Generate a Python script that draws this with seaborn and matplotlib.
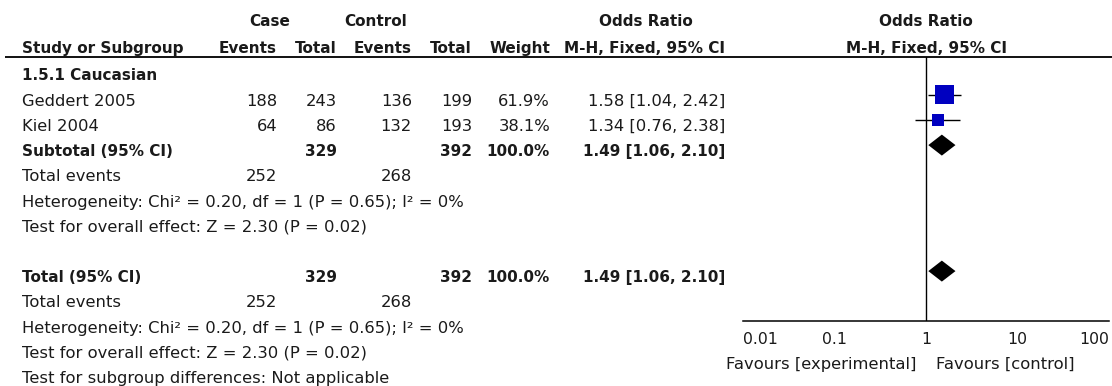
import matplotlib
matplotlib.use("Agg")
import matplotlib.pyplot as plt
import seaborn as sns
import pandas as pd
from matplotlib.ticker import NullLocator

# ---- data ----
group_label = "1.5.1 Caucasian"
studies = ["Geddert 2005", "Kiel 2004"]
case_events = [188, 64]
case_total = [243, 86]
control_events = [136, 132]
control_total = [199, 193]
weights = [61.9, 38.1]
odds_ratio = [1.58, 1.34]
ci_low = [1.04, 0.76]
ci_high = [2.42, 2.38]

pooled_or = 1.49
pooled_low = 1.06
pooled_high = 2.10
het_chi2, het_df, het_p, het_i2 = 0.20, 1, 0.65, 0
z_value, z_p = 2.30, 0.02

axis_ticks = [0.01, 0.1, 1, 10, 100]
axis_tick_labels = ["0.01", "0.1", "1", "10", "100"]
favours_left = "Favours [experimental]"
favours_right = "Favours [control]"

# ---- style ----
sns.set_style("white")
plt.rcParams["font.family"] = ["DejaVu Sans"]
TXT = "#1a1a1a"
BLUE = "#0000c0"
FS = 11.8      # regular text
FSB = 11.0     # bold text
FST = 11.3     # axis tick labels

W, H = 1112, 386
fig = plt.figure(figsize=(W / 100, H / 100), dpi=100)
fig.patch.set_facecolor("white")

# full-figure layer for the table text, in pixel units
tax = fig.add_axes([0, 0, 1, 1])
tax.set_xlim(0, W)
tax.set_ylim(H, 0)
tax.axis("off")

ROW0, STEP, BASE = 69.5, 25.2, 11.0


def row_c(i):
    return ROW0 + STEP * i


def base(i):
    return row_c(i) + BASE


X_STUDY, X_CE, X_CT, X_KE, X_KT, X_W, X_OR = 22, 277, 337, 412, 472, 550, 725
X_AX0, X_AX1, Y_HDR, Y_AX = 743, 1109, 57, 321
X_ONE = 926


def put(x, y, s, ha="left", bold=False, size=None):
    tax.text(x, y, s, ha=ha, va="baseline", color=TXT,
             fontsize=size or (FSB if bold else FS),
             fontweight="bold" if bold else "normal")


# header
put(270, 26, "Case", ha="center", bold=True)
put(376, 26, "Control", ha="center", bold=True)
put(646, 26, "Odds Ratio", ha="center", bold=True)
put(X_ONE, 26, "Odds Ratio", ha="center", bold=True)
put(X_STUDY, 53, "Study or Subgroup", bold=True)
put(X_CE, 53, "Events", ha="right", bold=True)
put(X_CT, 53, "Total", ha="right", bold=True)
put(X_KE, 53, "Events", ha="right", bold=True)
put(X_KT, 53, "Total", ha="right", bold=True)
put(X_W, 53, "Weight", ha="right", bold=True)
put(X_OR, 53, "M-H, Fixed, 95% CI", ha="right", bold=True)
put(X_ONE, 53, "M-H, Fixed, 95% CI", ha="center", bold=True)
tax.plot([5, W], [Y_HDR, Y_HDR], color="#111111", lw=1.4, solid_capstyle="butt")

# subgroup block
put(X_STUDY, base(0), group_label, bold=True)
for k, name in enumerate(studies):
    r = 1 + k
    put(X_STUDY, base(r), name)
    put(X_CE, base(r), f"{case_events[k]}", ha="right")
    put(X_CT, base(r), f"{case_total[k]}", ha="right")
    put(X_KE, base(r), f"{control_events[k]}", ha="right")
    put(X_KT, base(r), f"{control_total[k]}", ha="right")
    put(X_W, base(r), f"{weights[k]:.1f}%", ha="right")
    put(X_OR, base(r), f"{odds_ratio[k]:.2f} [{ci_low[k]:.2f}, {ci_high[k]:.2f}]", ha="right")

sum_ct = sum(case_total)
sum_kt = sum(control_total)
sum_ce = sum(case_events)
sum_ke = sum(control_events)
pooled_txt = f"{pooled_or:.2f} [{pooled_low:.2f}, {pooled_high:.2f}]"
het_txt = (f"Heterogeneity: Chi\u00b2 = {het_chi2:.2f}, df = {het_df} "
           f"(P = {het_p:.2f}); I\u00b2 = {het_i2}%")
z_txt = f"Test for overall effect: Z = {z_value:.2f} (P = {z_p:.2f})"


def summary_block(r, label):
    put(X_STUDY, base(r), label, bold=True)
    put(X_CT, base(r), f"{sum_ct}", ha="right", bold=True)
    put(X_KT, base(r), f"{sum_kt}", ha="right", bold=True)
    put(X_W, base(r), f"{sum(weights):.1f}%", ha="right", bold=True)
    put(X_OR, base(r), pooled_txt, ha="right", bold=True)
    put(X_STUDY, base(r + 1), "Total events")
    put(X_CE, base(r + 1), f"{sum_ce}", ha="right")
    put(X_KE, base(r + 1), f"{sum_ke}", ha="right")
    put(X_STUDY, base(r + 2), het_txt)
    put(X_STUDY, base(r + 3), z_txt)


summary_block(3, "Subtotal (95% CI)")
summary_block(8, "Total (95% CI)")
put(X_STUDY, base(12), "Test for subgroup differences: Not applicable")

# ---- forest panel ----
fax = fig.add_axes([X_AX0 / W, (H - Y_AX) / H, (X_AX1 - X_AX0) / W, (Y_AX - Y_HDR) / H])
fax.set_xscale("log")
fax.set_xlim(axis_ticks[0], axis_ticks[-1])
fax.set_ylim(Y_AX, Y_HDR)
fax.patch.set_visible(False)

fax.axvline(1, color="black", lw=1.0, zorder=1)

df = pd.DataFrame({"or": odds_ratio, "lo": ci_low, "hi": ci_high,
                   "w": weights, "y": [row_c(1 + k) for k in range(len(studies))]})
fax.hlines(df["y"], df["lo"], df["hi"], color="black", lw=1.0, zorder=2)

SIDE_PER_WEIGHT = 0.31  # marker side in pixels per percent weight
size_map = {w: (SIDE_PER_WEIGHT * w * 0.72) ** 2 for w in weights}
sns.scatterplot(data=df, x="or", y="y", size="w", sizes=size_map, marker="s",
                color=BLUE, linewidth=0, legend=False, ax=fax, zorder=3)

DH = 10.5
for r in (3, 8):
    yc = row_c(r)
    fax.fill([pooled_low, pooled_or, pooled_high, pooled_or],
             [yc, yc - DH, yc, yc + DH], color="black", lw=0, zorder=3)

for s in ("top", "left", "right"):
    fax.spines[s].set_visible(False)
fax.spines["bottom"].set_linewidth(1.1)
fax.spines["bottom"].set_color("black")
fax.set_yticks([])
fax.set_xlabel("")
fax.set_ylabel("")
fax.set_xticks(axis_ticks)
fax.set_xticklabels(axis_tick_labels)
fax.xaxis.set_minor_locator(NullLocator())
fax.tick_params(axis="x", direction="inout", length=10, width=1.0, pad=3,
                labelsize=FST, color="black", labelcolor=TXT)
tl = fax.get_xticklabels()
tl[0].set_ha("left")
tl[-1].set_ha("right")

put(917, 369, favours_left, ha="right")
put(936, 369, favours_right, ha="left")

fig.savefig("out.png", dpi=100, facecolor="white")
